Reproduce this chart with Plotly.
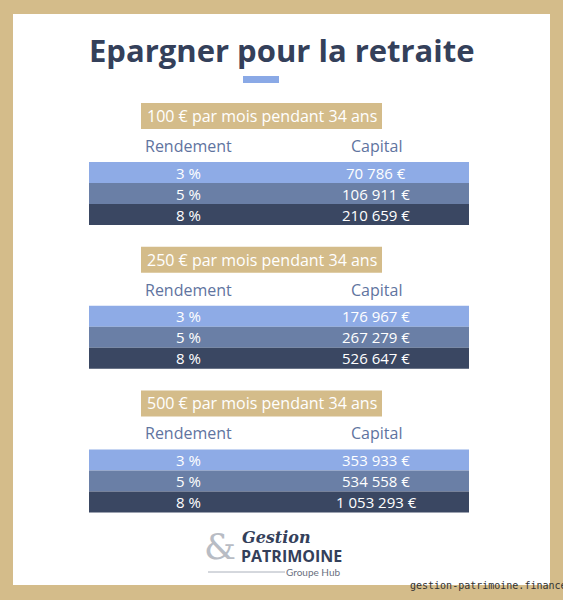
import plotly.graph_objects as go

title = "Epargner pour la retraite"
monthly = [100, 250, 500]
duration = 34
rates = ["3 %", "5 %", "8 %"]
capital = [
    ["70 786 €", "106 911 €", "210 659 €"],
    ["176 967 €", "267 279 €", "526 647 €"],
    ["353 933 €", "534 558 €", "1 053 293 €"],
]
headers = ["Rendement", "Capital"]
row_colors = ["#8eabe6", "#6a7fa6", "#3a4762"]

GOLD = "#d4bc8a"
NAVY = "#34405a"
F = "Open Sans"

shapes = []
ann = []
shapes.append(dict(type="rect", x0=0, x1=563, y0=0, y1=600, fillcolor=GOLD, line_width=0, layer="below"))
shapes.append(dict(type="rect", x0=13, x1=550, y0=14, y1=585, fillcolor="white", line_width=0, layer="below"))
ann.append(dict(x=281.5, y=50, text=f"<b>{title}</b>", font=dict(family=F, size=31, color=NAVY)))
shapes.append(dict(type="rect", x0=243, x1=279, y0=76, y1=83, fillcolor="#8aa9e6", line_width=0))

for i, m in enumerate(monthly):
    off = i * 143.7
    shapes.append(dict(type="rect", x0=141, x1=382, y0=103 + off, y1=129 + off, fillcolor=GOLD, line_width=0))
    ann.append(dict(x=261.5, y=116 + off, text=f"{m} € par mois pendant {duration} ans",
                    font=dict(family=F, size=16, color="white")))
    ann.append(dict(x=188, y=146 + off, text=headers[0], font=dict(family=F, size=16, color="#5f74a0")))
    ann.append(dict(x=376, y=146 + off, text=headers[1], font=dict(family=F, size=16, color="#5f74a0")))
    for j, r in enumerate(rates):
        y0 = 162 + off + j * 21
        shapes.append(dict(type="rect", x0=89, x1=469, y0=y0, y1=y0 + 21, fillcolor=row_colors[j], line_width=0))
        ann.append(dict(x=188, y=y0 + 10.5, text=r, font=dict(family=F, size=15, color="white")))
        ann.append(dict(x=376, y=y0 + 10.5, text=capital[i][j], font=dict(family=F, size=15, color="white")))

# logo
ann.append(dict(x=220, y=546, text="&", font=dict(family="DejaVu Serif", size=36, color="#b8bcc4")))
ann.append(dict(x=276, y=537, text="<b><i>Gestion</i></b>", font=dict(family="DejaVu Serif", size=16, color=NAVY)))
ann.append(dict(x=291, y=556, text="<b>PATRIMOINE</b>", font=dict(family="Open Sans", size=16, color=NAVY)))
shapes.append(dict(type="line", x0=208, x1=285, y0=572, y1=572, line=dict(color="#aab0bb", width=1)))
ann.append(dict(x=313, y=572, text="Groupe Hub", font=dict(family="Lato", size=10, color="#6a7080")))
ann.append(dict(x=488, y=585, text="gestion-patrimoine.finance", font=dict(family="DejaVu Sans Mono", size=10, color="#333333")))

for a in ann:
    a.update(xref="x", yref="y", showarrow=False, xanchor="center", yanchor="middle")

fig = go.Figure()
fig.add_trace(go.Scatter(x=[0, 563], y=[0, 600], mode="markers", marker=dict(opacity=0), hoverinfo="skip", showlegend=False))
fig.update_layout(width=563, height=600, margin=dict(l=0, r=0, t=0, b=0),
                  paper_bgcolor="white", plot_bgcolor="white",
                  shapes=shapes, annotations=ann,
                  xaxis=dict(range=[0, 563], visible=False, fixedrange=True),
                  yaxis=dict(range=[600, 0], visible=False, fixedrange=True))
fig.write_html("out.html", config={"displayModeBar": False},
               post_script="document.body.style.margin='0';document.body.style.overflow='hidden';")
